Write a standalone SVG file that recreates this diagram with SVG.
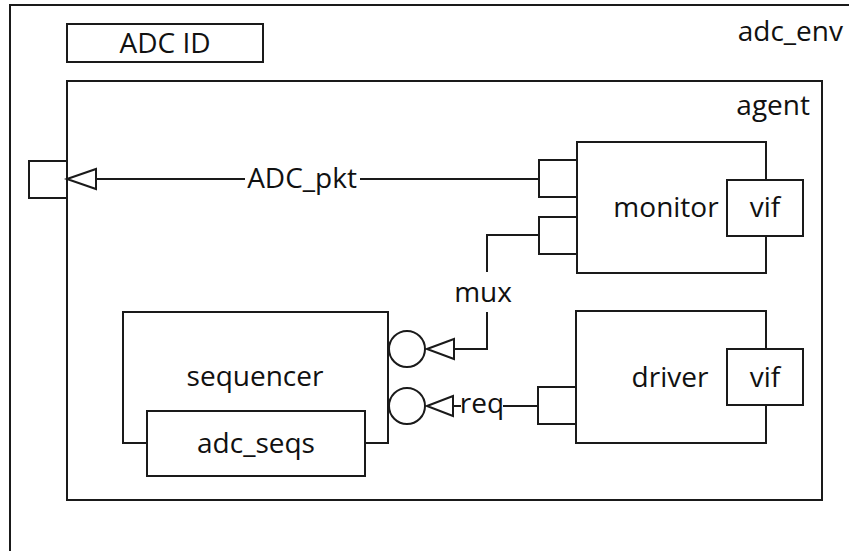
<svg xmlns="http://www.w3.org/2000/svg" width="849" height="551" viewBox="0 0 849 551">
<defs>
<style>
.box{fill:#fff;stroke:#1a1a1a;stroke-width:2}
.open{fill:none;stroke:#1a1a1a;stroke-width:2}
.ln{fill:none;stroke:#1a1a1a;stroke-width:2}
.head{fill:#fff;stroke:#1a1a1a;stroke-width:2;stroke-linejoin:miter}
text{font-family:"Open Sans","DejaVu Sans",sans-serif;font-size:28px;fill:#111}
.m{text-anchor:middle}
.e{text-anchor:end}
</style>
</defs>
<rect width="849" height="551" fill="#fff"/>
<g id="adc_env">
<rect class="open" x="10" y="5" width="860" height="560"/>
<text class="e" x="843" y="41">adc_env</text>
</g>
<g id="adc_id">
<rect class="box" x="67" y="24" width="196" height="38"/>
<text class="m" x="165" y="53">ADC ID</text>
</g>
<g id="agent">
<rect class="box" x="67" y="81" width="755" height="419"/>
<text class="e" x="810" y="115">agent</text>
</g>
<g id="agent_port">
<rect class="box" x="29" y="161" width="38" height="37"/>
</g>
<g id="monitor">
<rect class="box" x="577" y="142" width="189" height="131"/>
<rect class="box" x="727" y="180" width="76" height="56"/>
<text class="m" x="666" y="217">monitor</text>
<text class="m" x="765" y="217">vif</text>
<rect class="box" x="539" y="160" width="38" height="37"/>
<rect class="box" x="539" y="217" width="38" height="37"/>
</g>
<g id="driver">
<rect class="box" x="576" y="311" width="190" height="132"/>
<rect class="box" x="727" y="349" width="76" height="56"/>
<text class="m" x="670" y="387">driver</text>
<text class="m" x="765" y="387">vif</text>
<rect class="box" x="538" y="387" width="38" height="37"/>
</g>
<g id="sequencer">
<rect class="box" x="123" y="312" width="265" height="131"/>
<text class="m" x="255" y="386">sequencer</text>
<rect class="box" x="147" y="411" width="218" height="65"/>
<text class="m" x="256" y="453">adc_seqs</text>
<circle class="box" cx="407" cy="349" r="18"/>
<circle class="box" cx="407" cy="406" r="18"/>
</g>
<g id="connectors">
<path class="ln" d="M96 179H245M360 179H539"/>
<polygon class="head" points="67,179 96,169 96,189"/>
<text class="m" x="302" y="188">ADC_pkt</text>
<path class="ln" d="M539 235H487V272M487 312V349H454"/>
<polygon class="head" points="427,349 454,339 454,359"/>
<text class="m" x="483" y="302">mux</text>
<path class="ln" d="M453 406H461M503 406H538"/>
<polygon class="head" points="427,406 453,396 453,416"/>
<text class="m" x="482" y="413">req</text>
</g>
</svg>
